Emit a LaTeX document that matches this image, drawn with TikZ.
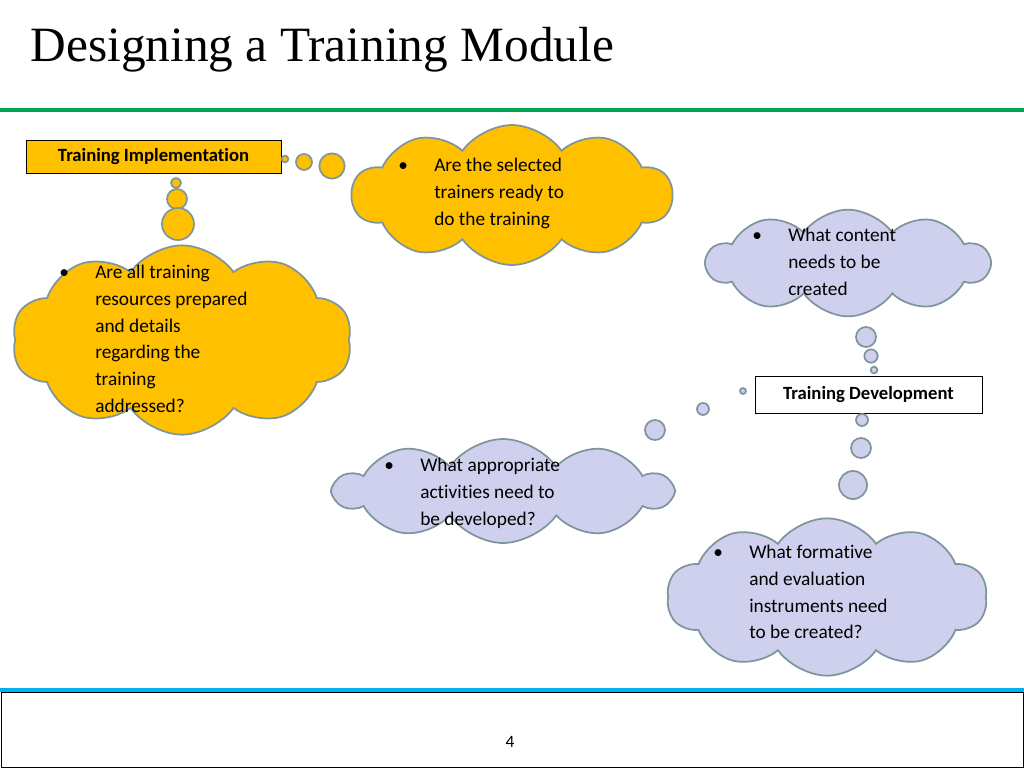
\documentclass[tikz,border=0pt]{standalone}
\usepackage{fontspec}
\setsansfont[Ligatures=NoCommon]{Carlito}
\newfontfamily\titlefont{Liberation Serif}
\usetikzlibrary{shapes.symbols}
\definecolor{orng}{HTML}{FFC000}
\definecolor{lav}{HTML}{CFCFEE}
\definecolor{edge}{HTML}{7E959C}
\definecolor{grn}{HTML}{00A650}
\definecolor{blu}{HTML}{00B0F0}
\tikzset{
  thought/.style={cloud, cloud puffs=10, cloud puff arc=110, cloud ignores aspect, draw=edge, line width=1.3pt, inner sep=0pt},
  puff/.style={circle, draw=edge, line width=1.3pt, inner sep=0pt},
  label box/.style={draw=black, font=\sffamily\bfseries\fontsize{14}{16}\selectfont, inner sep=0pt},
  says/.style={anchor=north west, inner sep=0pt, font=\sffamily\fontsize{14.5}{20}\selectfont}
}
\newcommand{\bul}[1]{\begin{tabular}{@{}p{27pt}@{}l@{}}\textbullet & \begin{tabular}[t]{@{}l@{}}#1\end{tabular}\end{tabular}}
\begin{document}
\begin{tikzpicture}[x=0.75pt,y=-0.75pt]
\useasboundingbox (0,0) rectangle (1024,768);
\node[anchor=west, font=\titlefont\fontsize{37}{42}\selectfont] (title) at (26,50) {Designing a Training Module};
\draw[grn, line width=3.5pt] (0,110) -- (1024,110);
\draw[blu, line width=3pt] (0,690) -- (1024,690);
\draw[black, line width=0.6pt] (1,692) rectangle (1023,767);
\node[font=\sffamily\fontsize{13}{15}\selectfont] (page) at (510,742) {4};
% orange thoughts
\node[thought, fill=orng, minimum width=240, minimum height=105] (c1) at (512,195) {};
\node[thought, fill=orng, minimum width=255, minimum height=142] (c2) at (182,340) {};
\node[label box, fill=orng, minimum width=191, minimum height=25] (impl) at (153.5,156.5) {Training Implementation};
\node[puff, fill=orng, minimum size=5] (p1) at (285,159) {};
\node[puff, fill=orng, minimum size=12] (p2) at (304,162) {};
\node[puff, fill=orng, minimum size=19] (p3) at (332,166) {};
\node[puff, fill=orng, minimum size=7.5] (p4) at (176,183) {};
\node[puff, fill=orng, minimum size=15] (p5) at (177,199) {};
\node[puff, fill=orng, minimum size=24] (p6) at (178,224) {};
% lavender thoughts
\node[thought, fill=lav, minimum width=212, minimum height=80] (c3) at (848,263) {};
\node[thought, fill=lav, minimum width=252, minimum height=78] (c4) at (503,491) {};
\node[thought, fill=lav, minimum width=240, minimum height=118] (c5) at (827,597) {};
\node[label box, fill=white, minimum width=170, minimum height=28] (dev) at (868.5,394.5) {Training Development};
\node[puff, fill=lav, minimum size=15] (q1) at (866,337) {};
\node[puff, fill=lav, minimum size=10] (q2) at (871,356) {};
\node[puff, fill=lav, minimum size=5] (q3) at (874,370) {};
\node[puff, fill=lav, minimum size=4.5] (q4) at (743,391) {};
\node[puff, fill=lav, minimum size=9] (q5) at (703,409) {};
\node[puff, fill=lav, minimum size=15] (q6) at (655,430) {};
\node[puff, fill=lav, minimum size=9] (q7) at (862,420) {};
\node[puff, fill=lav, minimum size=15] (q8) at (861,448) {};
\node[puff, fill=lav, minimum size=21] (q9) at (853,485) {};
% texts
\node[says] (t1) at (398,153) {\bul{Are the selected\\trainers ready to\\do the training}};
\node[says] (t2) at (59,260) {\bul{Are all training\\resources prepared\\and details\\regarding the\\training\\addressed?}};
\node[says] (t3) at (752,223) {\bul{What content\\needs to be\\created}};
\node[says] (t4) at (384,453) {\bul{What appropriate\\activities need to\\be developed?}};
\node[says] (t5) at (713,540) {\bul{What formative\\and evaluation\\instruments need\\to be created?}};
\end{tikzpicture}
\end{document}
